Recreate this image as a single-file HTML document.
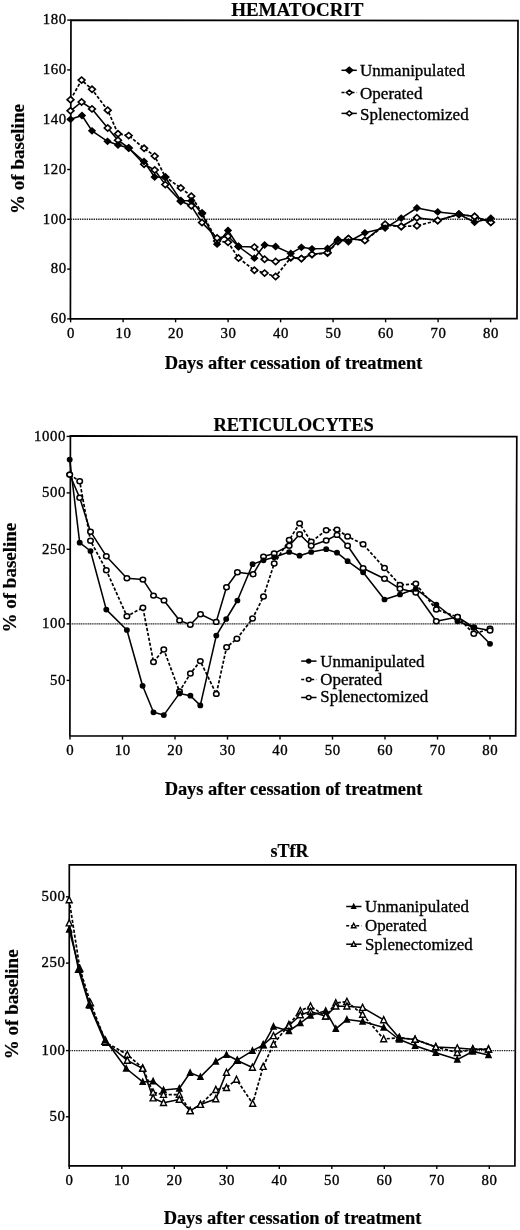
<!DOCTYPE html><html><head><meta charset="utf-8"><style>html,body{margin:0;padding:0;background:#fff;width:520px;height:1230px;overflow:hidden}svg{display:block;will-change:transform}text{font-family:"Liberation Serif",serif;fill:#000;stroke:#000;stroke-width:0.35px}text[font-weight=bold]{stroke-width:0.2px}</style></head><body>
<svg width="520" height="1230" viewBox="0 0 520 1230">
<text x="297.3" y="15.6" font-size="19.0" text-anchor="middle" font-weight="bold">HEMATOCRIT</text>
<polygon points="70.96,20.1 518.0,20.7 517.0,318.7 70.4,318.9" fill="none" stroke="#000" stroke-width="1.7"/>
<line x1="67.2" y1="318.9" x2="70.6" y2="318.9" stroke="#000" stroke-width="1.4"/>
<text x="66.7" y="323.1" font-size="14.8" text-anchor="end" letter-spacing="0.6">60</text>
<line x1="67.2" y1="269.1" x2="70.6" y2="269.1" stroke="#000" stroke-width="1.4"/>
<text x="66.7" y="273.3" font-size="14.8" text-anchor="end" letter-spacing="0.6">80</text>
<line x1="67.2" y1="219.3" x2="70.6" y2="219.3" stroke="#000" stroke-width="1.4"/>
<text x="66.7" y="223.5" font-size="14.8" text-anchor="end" letter-spacing="0.6">100</text>
<line x1="67.2" y1="169.5" x2="70.6" y2="169.5" stroke="#000" stroke-width="1.4"/>
<text x="66.7" y="173.7" font-size="14.8" text-anchor="end" letter-spacing="0.6">120</text>
<line x1="67.2" y1="119.7" x2="70.6" y2="119.7" stroke="#000" stroke-width="1.4"/>
<text x="66.7" y="123.9" font-size="14.8" text-anchor="end" letter-spacing="0.6">140</text>
<line x1="67.2" y1="69.9" x2="70.6" y2="69.9" stroke="#000" stroke-width="1.4"/>
<text x="66.7" y="74.1" font-size="14.8" text-anchor="end" letter-spacing="0.6">160</text>
<line x1="67.2" y1="20.1" x2="70.6" y2="20.1" stroke="#000" stroke-width="1.4"/>
<text x="66.7" y="24.3" font-size="14.8" text-anchor="end" letter-spacing="0.6">180</text>
<line x1="70.6" y1="318.9" x2="70.6" y2="322.3" stroke="#000" stroke-width="1.4"/>
<text x="70.9" y="338.0" font-size="14.8" text-anchor="middle" letter-spacing="0.6">0</text>
<line x1="123.1" y1="318.9" x2="123.1" y2="322.3" stroke="#000" stroke-width="1.4"/>
<text x="123.4" y="338.0" font-size="14.8" text-anchor="middle" letter-spacing="0.6">10</text>
<line x1="175.6" y1="318.9" x2="175.6" y2="322.3" stroke="#000" stroke-width="1.4"/>
<text x="175.9" y="338.0" font-size="14.8" text-anchor="middle" letter-spacing="0.6">20</text>
<line x1="228.1" y1="318.9" x2="228.1" y2="322.3" stroke="#000" stroke-width="1.4"/>
<text x="228.4" y="338.0" font-size="14.8" text-anchor="middle" letter-spacing="0.6">30</text>
<line x1="280.6" y1="318.9" x2="280.6" y2="322.3" stroke="#000" stroke-width="1.4"/>
<text x="280.9" y="338.0" font-size="14.8" text-anchor="middle" letter-spacing="0.6">40</text>
<line x1="333.1" y1="318.9" x2="333.1" y2="322.3" stroke="#000" stroke-width="1.4"/>
<text x="333.4" y="338.0" font-size="14.8" text-anchor="middle" letter-spacing="0.6">50</text>
<line x1="385.6" y1="318.9" x2="385.6" y2="322.3" stroke="#000" stroke-width="1.4"/>
<text x="385.9" y="338.0" font-size="14.8" text-anchor="middle" letter-spacing="0.6">60</text>
<line x1="438.1" y1="318.9" x2="438.1" y2="322.3" stroke="#000" stroke-width="1.4"/>
<text x="438.4" y="338.0" font-size="14.8" text-anchor="middle" letter-spacing="0.6">70</text>
<line x1="490.6" y1="318.9" x2="490.6" y2="322.3" stroke="#000" stroke-width="1.4"/>
<text x="490.9" y="338.0" font-size="14.8" text-anchor="middle" letter-spacing="0.6">80</text>
<line x1="70.6" y1="219.3" x2="517.0" y2="219.3" stroke="#222" stroke-width="1.4" stroke-dasharray="1.4,0.9"/>
<polyline points="70.5,119.3 82.0,115.5 92.0,130.8 107.5,141.3 118.0,145.0 128.7,148.0 144.0,161.5 154.6,177.0 165.2,177.3 180.8,200.4 191.3,200.8 202.0,213.8 217.1,244.2 228.0,230.4 238.5,246.5 254.4,258.2 264.6,245.0 275.6,246.5 290.8,253.4 301.4,247.3 312.0,248.8 327.5,248.5 337.9,239.4 348.4,241.8 364.9,232.8 385.1,228.1 401.2,218.2 416.9,208.0 437.7,211.9 458.9,214.2 474.6,222.3 490.8,218.2" fill="none" stroke="#000" stroke-width="1.55" stroke-linejoin="round"/>
<polyline points="70.5,99.7 81.6,80.1 92.0,89.3 107.7,110.2 118.0,133.8 128.7,135.6 144.1,148.3 154.7,156.1 165.3,177.0 180.8,187.9 191.3,196.2 202.0,213.0 217.1,241.0 228.0,242.3 238.5,258.0 254.4,270.2 264.6,273.1 275.6,276.5 290.8,257.7 301.4,258.6 312.0,254.6 327.5,253.1 337.9,241.5 348.4,238.6 364.9,240.4 385.1,225.1 401.2,226.5 416.9,225.8 437.7,220.5 458.9,214.2 474.6,216.5 490.8,222.3" fill="none" stroke="#000" stroke-width="1.7" stroke-dasharray="3.2,1.8" stroke-linejoin="round"/>
<polyline points="70.5,110.8 81.6,102.0 92.0,108.9 107.7,128.0 118.0,140.2 128.7,148.0 144.1,164.2 154.7,170.0 165.3,184.6 180.8,201.3 191.3,205.8 202.0,222.6 217.1,238.0 228.0,236.2 238.5,246.5 254.4,247.1 264.6,259.2 275.6,261.5 290.8,257.3 301.4,258.6 312.0,254.2 327.5,252.6 337.9,241.0 348.4,238.6 364.9,240.4 385.1,224.2 401.2,226.5 416.9,217.7 437.7,220.5 458.9,214.2 474.6,216.5 490.8,222.3" fill="none" stroke="#000" stroke-width="1.55" stroke-linejoin="round"/>
<path d="M70.5 96.6L73.9 99.7L70.5 102.8L67.1 99.7Z" fill="#fff" stroke="#000" stroke-width="1.6"/>
<path d="M81.6 77.0L85.0 80.1L81.6 83.2L78.2 80.1Z" fill="#fff" stroke="#000" stroke-width="1.6"/>
<path d="M92.0 86.2L95.4 89.3L92.0 92.4L88.6 89.3Z" fill="#fff" stroke="#000" stroke-width="1.6"/>
<path d="M107.7 107.1L111.1 110.2L107.7 113.3L104.3 110.2Z" fill="#fff" stroke="#000" stroke-width="1.6"/>
<path d="M118.0 130.7L121.4 133.8L118.0 136.9L114.6 133.8Z" fill="#fff" stroke="#000" stroke-width="1.6"/>
<path d="M128.7 132.5L132.1 135.6L128.7 138.7L125.3 135.6Z" fill="#fff" stroke="#000" stroke-width="1.6"/>
<path d="M144.1 145.2L147.5 148.3L144.1 151.4L140.7 148.3Z" fill="#fff" stroke="#000" stroke-width="1.6"/>
<path d="M154.7 153.0L158.1 156.1L154.7 159.2L151.3 156.1Z" fill="#fff" stroke="#000" stroke-width="1.6"/>
<path d="M165.3 173.9L168.7 177.0L165.3 180.1L161.9 177.0Z" fill="#fff" stroke="#000" stroke-width="1.6"/>
<path d="M180.8 184.8L184.2 187.9L180.8 191.0L177.4 187.9Z" fill="#fff" stroke="#000" stroke-width="1.6"/>
<path d="M191.3 193.1L194.7 196.2L191.3 199.3L187.9 196.2Z" fill="#fff" stroke="#000" stroke-width="1.6"/>
<path d="M202.0 209.9L205.4 213.0L202.0 216.1L198.6 213.0Z" fill="#fff" stroke="#000" stroke-width="1.6"/>
<path d="M217.1 237.9L220.5 241.0L217.1 244.1L213.7 241.0Z" fill="#fff" stroke="#000" stroke-width="1.6"/>
<path d="M228.0 239.2L231.4 242.3L228.0 245.4L224.6 242.3Z" fill="#fff" stroke="#000" stroke-width="1.6"/>
<path d="M238.5 254.9L241.9 258.0L238.5 261.1L235.1 258.0Z" fill="#fff" stroke="#000" stroke-width="1.6"/>
<path d="M254.4 267.1L257.8 270.2L254.4 273.3L251.0 270.2Z" fill="#fff" stroke="#000" stroke-width="1.6"/>
<path d="M264.6 270.0L268.0 273.1L264.6 276.2L261.2 273.1Z" fill="#fff" stroke="#000" stroke-width="1.6"/>
<path d="M275.6 273.4L279.0 276.5L275.6 279.6L272.2 276.5Z" fill="#fff" stroke="#000" stroke-width="1.6"/>
<path d="M290.8 254.6L294.2 257.7L290.8 260.8L287.4 257.7Z" fill="#fff" stroke="#000" stroke-width="1.6"/>
<path d="M301.4 255.5L304.8 258.6L301.4 261.7L298.0 258.6Z" fill="#fff" stroke="#000" stroke-width="1.6"/>
<path d="M312.0 251.5L315.4 254.6L312.0 257.7L308.6 254.6Z" fill="#fff" stroke="#000" stroke-width="1.6"/>
<path d="M327.5 250.0L330.9 253.1L327.5 256.2L324.1 253.1Z" fill="#fff" stroke="#000" stroke-width="1.6"/>
<path d="M337.9 238.4L341.3 241.5L337.9 244.6L334.5 241.5Z" fill="#fff" stroke="#000" stroke-width="1.6"/>
<path d="M348.4 235.5L351.8 238.6L348.4 241.7L345.0 238.6Z" fill="#fff" stroke="#000" stroke-width="1.6"/>
<path d="M364.9 237.3L368.3 240.4L364.9 243.5L361.5 240.4Z" fill="#fff" stroke="#000" stroke-width="1.6"/>
<path d="M385.1 222.0L388.5 225.1L385.1 228.2L381.7 225.1Z" fill="#fff" stroke="#000" stroke-width="1.6"/>
<path d="M401.2 223.4L404.6 226.5L401.2 229.6L397.8 226.5Z" fill="#fff" stroke="#000" stroke-width="1.6"/>
<path d="M416.9 222.7L420.3 225.8L416.9 228.9L413.5 225.8Z" fill="#fff" stroke="#000" stroke-width="1.6"/>
<path d="M437.7 217.4L441.1 220.5L437.7 223.6L434.3 220.5Z" fill="#fff" stroke="#000" stroke-width="1.6"/>
<path d="M458.9 211.1L462.3 214.2L458.9 217.3L455.5 214.2Z" fill="#fff" stroke="#000" stroke-width="1.6"/>
<path d="M474.6 213.4L478.0 216.5L474.6 219.6L471.2 216.5Z" fill="#fff" stroke="#000" stroke-width="1.6"/>
<path d="M490.8 219.2L494.2 222.3L490.8 225.4L487.4 222.3Z" fill="#fff" stroke="#000" stroke-width="1.6"/>
<path d="M70.5 107.7L73.9 110.8L70.5 113.9L67.1 110.8Z" fill="#fff" stroke="#000" stroke-width="1.6"/>
<path d="M81.6 98.9L85.0 102.0L81.6 105.1L78.2 102.0Z" fill="#fff" stroke="#000" stroke-width="1.6"/>
<path d="M92.0 105.8L95.4 108.9L92.0 112.0L88.6 108.9Z" fill="#fff" stroke="#000" stroke-width="1.6"/>
<path d="M107.7 124.9L111.1 128.0L107.7 131.1L104.3 128.0Z" fill="#fff" stroke="#000" stroke-width="1.6"/>
<path d="M118.0 137.1L121.4 140.2L118.0 143.3L114.6 140.2Z" fill="#fff" stroke="#000" stroke-width="1.6"/>
<path d="M128.7 144.9L132.1 148.0L128.7 151.1L125.3 148.0Z" fill="#fff" stroke="#000" stroke-width="1.6"/>
<path d="M144.1 161.1L147.5 164.2L144.1 167.3L140.7 164.2Z" fill="#fff" stroke="#000" stroke-width="1.6"/>
<path d="M154.7 166.9L158.1 170.0L154.7 173.1L151.3 170.0Z" fill="#fff" stroke="#000" stroke-width="1.6"/>
<path d="M165.3 181.5L168.7 184.6L165.3 187.7L161.9 184.6Z" fill="#fff" stroke="#000" stroke-width="1.6"/>
<path d="M180.8 198.2L184.2 201.3L180.8 204.4L177.4 201.3Z" fill="#fff" stroke="#000" stroke-width="1.6"/>
<path d="M191.3 202.7L194.7 205.8L191.3 208.9L187.9 205.8Z" fill="#fff" stroke="#000" stroke-width="1.6"/>
<path d="M202.0 219.5L205.4 222.6L202.0 225.7L198.6 222.6Z" fill="#fff" stroke="#000" stroke-width="1.6"/>
<path d="M217.1 234.9L220.5 238.0L217.1 241.1L213.7 238.0Z" fill="#fff" stroke="#000" stroke-width="1.6"/>
<path d="M228.0 233.1L231.4 236.2L228.0 239.3L224.6 236.2Z" fill="#fff" stroke="#000" stroke-width="1.6"/>
<path d="M238.5 243.4L241.9 246.5L238.5 249.6L235.1 246.5Z" fill="#fff" stroke="#000" stroke-width="1.6"/>
<path d="M254.4 244.0L257.8 247.1L254.4 250.2L251.0 247.1Z" fill="#fff" stroke="#000" stroke-width="1.6"/>
<path d="M264.6 256.1L268.0 259.2L264.6 262.3L261.2 259.2Z" fill="#fff" stroke="#000" stroke-width="1.6"/>
<path d="M275.6 258.4L279.0 261.5L275.6 264.6L272.2 261.5Z" fill="#fff" stroke="#000" stroke-width="1.6"/>
<path d="M290.8 254.2L294.2 257.3L290.8 260.4L287.4 257.3Z" fill="#fff" stroke="#000" stroke-width="1.6"/>
<path d="M301.4 255.5L304.8 258.6L301.4 261.7L298.0 258.6Z" fill="#fff" stroke="#000" stroke-width="1.6"/>
<path d="M312.0 251.1L315.4 254.2L312.0 257.3L308.6 254.2Z" fill="#fff" stroke="#000" stroke-width="1.6"/>
<path d="M327.5 249.5L330.9 252.6L327.5 255.7L324.1 252.6Z" fill="#fff" stroke="#000" stroke-width="1.6"/>
<path d="M337.9 237.9L341.3 241.0L337.9 244.1L334.5 241.0Z" fill="#fff" stroke="#000" stroke-width="1.6"/>
<path d="M348.4 235.5L351.8 238.6L348.4 241.7L345.0 238.6Z" fill="#fff" stroke="#000" stroke-width="1.6"/>
<path d="M364.9 237.3L368.3 240.4L364.9 243.5L361.5 240.4Z" fill="#fff" stroke="#000" stroke-width="1.6"/>
<path d="M385.1 221.1L388.5 224.2L385.1 227.3L381.7 224.2Z" fill="#fff" stroke="#000" stroke-width="1.6"/>
<path d="M401.2 223.4L404.6 226.5L401.2 229.6L397.8 226.5Z" fill="#fff" stroke="#000" stroke-width="1.6"/>
<path d="M416.9 214.6L420.3 217.7L416.9 220.8L413.5 217.7Z" fill="#fff" stroke="#000" stroke-width="1.6"/>
<path d="M437.7 217.4L441.1 220.5L437.7 223.6L434.3 220.5Z" fill="#fff" stroke="#000" stroke-width="1.6"/>
<path d="M458.9 211.1L462.3 214.2L458.9 217.3L455.5 214.2Z" fill="#fff" stroke="#000" stroke-width="1.6"/>
<path d="M474.6 213.4L478.0 216.5L474.6 219.6L471.2 216.5Z" fill="#fff" stroke="#000" stroke-width="1.6"/>
<path d="M490.8 219.2L494.2 222.3L490.8 225.4L487.4 222.3Z" fill="#fff" stroke="#000" stroke-width="1.6"/>
<path d="M70.5 116.5L73.5 119.3L70.5 122.1L67.5 119.3Z" fill="#000" stroke="#000" stroke-width="1.6"/>
<path d="M82.0 112.7L85.0 115.5L82.0 118.3L79.0 115.5Z" fill="#000" stroke="#000" stroke-width="1.6"/>
<path d="M92.0 128.0L95.0 130.8L92.0 133.6L89.0 130.8Z" fill="#000" stroke="#000" stroke-width="1.6"/>
<path d="M107.5 138.5L110.5 141.3L107.5 144.1L104.5 141.3Z" fill="#000" stroke="#000" stroke-width="1.6"/>
<path d="M118.0 142.2L121.0 145.0L118.0 147.8L115.0 145.0Z" fill="#000" stroke="#000" stroke-width="1.6"/>
<path d="M128.7 145.2L131.7 148.0L128.7 150.8L125.7 148.0Z" fill="#000" stroke="#000" stroke-width="1.6"/>
<path d="M144.0 158.7L147.0 161.5L144.0 164.3L141.0 161.5Z" fill="#000" stroke="#000" stroke-width="1.6"/>
<path d="M154.6 174.2L157.6 177.0L154.6 179.8L151.6 177.0Z" fill="#000" stroke="#000" stroke-width="1.6"/>
<path d="M165.2 174.5L168.2 177.3L165.2 180.1L162.2 177.3Z" fill="#000" stroke="#000" stroke-width="1.6"/>
<path d="M180.8 197.6L183.8 200.4L180.8 203.2L177.8 200.4Z" fill="#000" stroke="#000" stroke-width="1.6"/>
<path d="M191.3 198.0L194.3 200.8L191.3 203.6L188.3 200.8Z" fill="#000" stroke="#000" stroke-width="1.6"/>
<path d="M202.0 211.0L205.0 213.8L202.0 216.6L199.0 213.8Z" fill="#000" stroke="#000" stroke-width="1.6"/>
<path d="M217.1 241.4L220.1 244.2L217.1 247.0L214.1 244.2Z" fill="#000" stroke="#000" stroke-width="1.6"/>
<path d="M228.0 227.6L231.0 230.4L228.0 233.2L225.0 230.4Z" fill="#000" stroke="#000" stroke-width="1.6"/>
<path d="M238.5 243.7L241.5 246.5L238.5 249.3L235.5 246.5Z" fill="#000" stroke="#000" stroke-width="1.6"/>
<path d="M254.4 255.4L257.4 258.2L254.4 261.0L251.4 258.2Z" fill="#000" stroke="#000" stroke-width="1.6"/>
<path d="M264.6 242.2L267.6 245.0L264.6 247.8L261.6 245.0Z" fill="#000" stroke="#000" stroke-width="1.6"/>
<path d="M275.6 243.7L278.6 246.5L275.6 249.3L272.6 246.5Z" fill="#000" stroke="#000" stroke-width="1.6"/>
<path d="M290.8 250.6L293.8 253.4L290.8 256.2L287.8 253.4Z" fill="#000" stroke="#000" stroke-width="1.6"/>
<path d="M301.4 244.5L304.4 247.3L301.4 250.1L298.4 247.3Z" fill="#000" stroke="#000" stroke-width="1.6"/>
<path d="M312.0 246.0L315.0 248.8L312.0 251.6L309.0 248.8Z" fill="#000" stroke="#000" stroke-width="1.6"/>
<path d="M327.5 245.7L330.5 248.5L327.5 251.3L324.5 248.5Z" fill="#000" stroke="#000" stroke-width="1.6"/>
<path d="M337.9 236.6L340.9 239.4L337.9 242.2L334.9 239.4Z" fill="#000" stroke="#000" stroke-width="1.6"/>
<path d="M348.4 239.0L351.4 241.8L348.4 244.6L345.4 241.8Z" fill="#000" stroke="#000" stroke-width="1.6"/>
<path d="M364.9 230.0L367.9 232.8L364.9 235.6L361.9 232.8Z" fill="#000" stroke="#000" stroke-width="1.6"/>
<path d="M385.1 225.3L388.1 228.1L385.1 230.9L382.1 228.1Z" fill="#000" stroke="#000" stroke-width="1.6"/>
<path d="M401.2 215.4L404.2 218.2L401.2 221.0L398.2 218.2Z" fill="#000" stroke="#000" stroke-width="1.6"/>
<path d="M416.9 205.2L419.9 208.0L416.9 210.8L413.9 208.0Z" fill="#000" stroke="#000" stroke-width="1.6"/>
<path d="M437.7 209.1L440.7 211.9L437.7 214.7L434.7 211.9Z" fill="#000" stroke="#000" stroke-width="1.6"/>
<path d="M458.9 211.4L461.9 214.2L458.9 217.0L455.9 214.2Z" fill="#000" stroke="#000" stroke-width="1.6"/>
<path d="M474.6 219.5L477.6 222.3L474.6 225.1L471.6 222.3Z" fill="#000" stroke="#000" stroke-width="1.6"/>
<path d="M490.8 215.4L493.8 218.2L490.8 221.0L487.8 218.2Z" fill="#000" stroke="#000" stroke-width="1.6"/>
<text x="293.5" y="368.7" font-size="18.4" text-anchor="middle" font-weight="bold">Days after cessation of treatment</text>
<text transform="translate(24.1 159.0) rotate(-90)" font-size="19.0" font-weight="bold" text-anchor="middle">% of baseline</text>
<line x1="341.5" y1="70.3" x2="356.8" y2="70.3" stroke="#000" stroke-width="1.5"/>
<path d="M349.3 67.4L352.7 70.3L349.3 73.2L345.9 70.3Z" fill="#000" stroke="#000" stroke-width="1.6"/>
<text x="360.1" y="76.1" font-size="17.0" text-anchor="start">Unmanipulated</text>
<line x1="341.5" y1="92.6" x2="356.8" y2="92.6" stroke="#000" stroke-width="1.5" stroke-dasharray="3,2"/>
<path d="M349.3 90.2L352.2 92.6L349.3 95.0L346.4 92.6Z" fill="#fff" stroke="#000" stroke-width="1.6"/>
<text x="360.1" y="98.7" font-size="17.0" text-anchor="start">Operated</text>
<line x1="341.5" y1="113.4" x2="356.8" y2="113.4" stroke="#000" stroke-width="1.5"/>
<path d="M349.3 111.0L352.2 113.4L349.3 115.8L346.4 113.4Z" fill="#fff" stroke="#000" stroke-width="1.6"/>
<text x="360.1" y="119.5" font-size="17.0" text-anchor="start">Splenectomized</text>
<text x="293.6" y="430.8" font-size="18.5" text-anchor="middle" font-weight="bold">RETICULOCYTES</text>
<polygon points="70.4,435.9 516.8,436.7 515.7,735.8 69.9,736.0" fill="none" stroke="#000" stroke-width="1.7"/>
<line x1="66.6" y1="436.4" x2="70.0" y2="436.4" stroke="#000" stroke-width="1.4"/>
<text x="66.1" y="440.6" font-size="14.8" text-anchor="end" letter-spacing="0.6">1000</text>
<line x1="66.6" y1="492.9" x2="70.0" y2="492.9" stroke="#000" stroke-width="1.4"/>
<text x="66.1" y="497.1" font-size="14.8" text-anchor="end" letter-spacing="0.6">500</text>
<line x1="66.6" y1="549.3" x2="70.0" y2="549.3" stroke="#000" stroke-width="1.4"/>
<text x="66.1" y="553.5" font-size="14.8" text-anchor="end" letter-spacing="0.6">250</text>
<line x1="66.6" y1="623.9" x2="70.0" y2="623.9" stroke="#000" stroke-width="1.4"/>
<text x="66.1" y="628.1" font-size="14.8" text-anchor="end" letter-spacing="0.6">100</text>
<line x1="66.6" y1="680.4" x2="70.0" y2="680.4" stroke="#000" stroke-width="1.4"/>
<text x="66.1" y="684.6" font-size="14.8" text-anchor="end" letter-spacing="0.6">50</text>
<line x1="70.0" y1="736.2" x2="70.0" y2="739.6" stroke="#000" stroke-width="1.4"/>
<text x="70.3" y="754.8" font-size="14.8" text-anchor="middle" letter-spacing="0.6">0</text>
<line x1="122.5" y1="736.2" x2="122.5" y2="739.6" stroke="#000" stroke-width="1.4"/>
<text x="122.8" y="754.8" font-size="14.8" text-anchor="middle" letter-spacing="0.6">10</text>
<line x1="175.0" y1="736.2" x2="175.0" y2="739.6" stroke="#000" stroke-width="1.4"/>
<text x="175.3" y="754.8" font-size="14.8" text-anchor="middle" letter-spacing="0.6">20</text>
<line x1="227.5" y1="736.2" x2="227.5" y2="739.6" stroke="#000" stroke-width="1.4"/>
<text x="227.8" y="754.8" font-size="14.8" text-anchor="middle" letter-spacing="0.6">30</text>
<line x1="280.0" y1="736.2" x2="280.0" y2="739.6" stroke="#000" stroke-width="1.4"/>
<text x="280.3" y="754.8" font-size="14.8" text-anchor="middle" letter-spacing="0.6">40</text>
<line x1="332.5" y1="736.2" x2="332.5" y2="739.6" stroke="#000" stroke-width="1.4"/>
<text x="332.8" y="754.8" font-size="14.8" text-anchor="middle" letter-spacing="0.6">50</text>
<line x1="385.0" y1="736.2" x2="385.0" y2="739.6" stroke="#000" stroke-width="1.4"/>
<text x="385.3" y="754.8" font-size="14.8" text-anchor="middle" letter-spacing="0.6">60</text>
<line x1="437.5" y1="736.2" x2="437.5" y2="739.6" stroke="#000" stroke-width="1.4"/>
<text x="437.8" y="754.8" font-size="14.8" text-anchor="middle" letter-spacing="0.6">70</text>
<line x1="490.0" y1="736.2" x2="490.0" y2="739.6" stroke="#000" stroke-width="1.4"/>
<text x="490.3" y="754.8" font-size="14.8" text-anchor="middle" letter-spacing="0.6">80</text>
<line x1="70.0" y1="623.9" x2="516.0" y2="623.9" stroke="#333" stroke-width="1.1" stroke-dasharray="1.3,0.5"/>
<polyline points="69.7,459.6 79.7,542.7 90.5,551.0 106.3,609.6 126.9,630.0 142.6,685.8 153.5,712.3 163.8,715.1 179.5,693.4 190.4,695.7 200.3,705.4 216.3,635.6 226.2,619.0 237.4,600.5 252.6,564.2 263.5,560.3 274.2,557.3 289.2,552.0 299.6,555.7 311.2,552.0 326.2,549.2 337.0,552.7 347.6,561.2 363.1,572.3 384.5,599.5 400.0,594.5 415.8,588.8 436.3,604.5 457.5,621.3 473.8,627.5 490.0,643.8" fill="none" stroke="#000" stroke-width="1.55" stroke-linejoin="round"/>
<polyline points="69.7,474.6 79.7,481.3 90.5,540.8 106.3,570.2 126.9,616.2 142.9,607.7 153.5,662.0 163.8,649.5 179.5,691.5 190.4,673.5 200.3,661.1 216.3,693.9 226.6,647.2 236.9,638.8 252.6,618.5 263.5,596.5 274.2,563.5 289.2,540.0 299.6,523.4 311.2,541.8 326.2,530.3 337.0,529.6 347.6,536.5 363.1,544.2 384.5,568.0 400.0,585.0 415.8,583.8 436.3,609.5 457.5,617.0 473.8,633.8 490.0,628.8" fill="none" stroke="#000" stroke-width="1.7" stroke-dasharray="3.2,1.8" stroke-linejoin="round"/>
<polyline points="69.7,474.6 79.7,497.7 90.5,531.7 106.3,556.2 126.9,578.3 142.9,579.6 153.5,595.6 164.0,600.4 179.6,620.4 190.3,624.8 200.5,614.3 216.2,621.9 226.5,587.3 237.4,572.3 253.1,574.2 263.5,556.6 274.2,553.4 289.2,545.8 299.6,534.2 311.2,545.8 326.2,540.5 337.0,534.9 347.6,545.8 363.1,568.2 384.5,578.8 400.0,588.8 415.8,592.5 436.3,621.3 457.5,617.0 473.8,627.5 490.0,630.5" fill="none" stroke="#000" stroke-width="1.55" stroke-linejoin="round"/>
<ellipse cx="69.7" cy="474.6" rx="2.75" ry="2.45" fill="#fff" stroke="#000" stroke-width="1.5"/>
<ellipse cx="79.7" cy="481.3" rx="2.75" ry="2.45" fill="#fff" stroke="#000" stroke-width="1.5"/>
<ellipse cx="90.5" cy="540.8" rx="2.75" ry="2.45" fill="#fff" stroke="#000" stroke-width="1.5"/>
<ellipse cx="106.3" cy="570.2" rx="2.75" ry="2.45" fill="#fff" stroke="#000" stroke-width="1.5"/>
<ellipse cx="126.9" cy="616.2" rx="2.75" ry="2.45" fill="#fff" stroke="#000" stroke-width="1.5"/>
<ellipse cx="142.9" cy="607.7" rx="2.75" ry="2.45" fill="#fff" stroke="#000" stroke-width="1.5"/>
<ellipse cx="153.5" cy="662.0" rx="2.75" ry="2.45" fill="#fff" stroke="#000" stroke-width="1.5"/>
<ellipse cx="163.8" cy="649.5" rx="2.75" ry="2.45" fill="#fff" stroke="#000" stroke-width="1.5"/>
<ellipse cx="179.5" cy="691.5" rx="2.75" ry="2.45" fill="#fff" stroke="#000" stroke-width="1.5"/>
<ellipse cx="190.4" cy="673.5" rx="2.75" ry="2.45" fill="#fff" stroke="#000" stroke-width="1.5"/>
<ellipse cx="200.3" cy="661.1" rx="2.75" ry="2.45" fill="#fff" stroke="#000" stroke-width="1.5"/>
<ellipse cx="216.3" cy="693.9" rx="2.75" ry="2.45" fill="#fff" stroke="#000" stroke-width="1.5"/>
<ellipse cx="226.6" cy="647.2" rx="2.75" ry="2.45" fill="#fff" stroke="#000" stroke-width="1.5"/>
<ellipse cx="236.9" cy="638.8" rx="2.75" ry="2.45" fill="#fff" stroke="#000" stroke-width="1.5"/>
<ellipse cx="252.6" cy="618.5" rx="2.75" ry="2.45" fill="#fff" stroke="#000" stroke-width="1.5"/>
<ellipse cx="263.5" cy="596.5" rx="2.75" ry="2.45" fill="#fff" stroke="#000" stroke-width="1.5"/>
<ellipse cx="274.2" cy="563.5" rx="2.75" ry="2.45" fill="#fff" stroke="#000" stroke-width="1.5"/>
<ellipse cx="289.2" cy="540.0" rx="2.75" ry="2.45" fill="#fff" stroke="#000" stroke-width="1.5"/>
<ellipse cx="299.6" cy="523.4" rx="2.75" ry="2.45" fill="#fff" stroke="#000" stroke-width="1.5"/>
<ellipse cx="311.2" cy="541.8" rx="2.75" ry="2.45" fill="#fff" stroke="#000" stroke-width="1.5"/>
<ellipse cx="326.2" cy="530.3" rx="2.75" ry="2.45" fill="#fff" stroke="#000" stroke-width="1.5"/>
<ellipse cx="337.0" cy="529.6" rx="2.75" ry="2.45" fill="#fff" stroke="#000" stroke-width="1.5"/>
<ellipse cx="347.6" cy="536.5" rx="2.75" ry="2.45" fill="#fff" stroke="#000" stroke-width="1.5"/>
<ellipse cx="363.1" cy="544.2" rx="2.75" ry="2.45" fill="#fff" stroke="#000" stroke-width="1.5"/>
<ellipse cx="384.5" cy="568.0" rx="2.75" ry="2.45" fill="#fff" stroke="#000" stroke-width="1.5"/>
<ellipse cx="400.0" cy="585.0" rx="2.75" ry="2.45" fill="#fff" stroke="#000" stroke-width="1.5"/>
<ellipse cx="415.8" cy="583.8" rx="2.75" ry="2.45" fill="#fff" stroke="#000" stroke-width="1.5"/>
<ellipse cx="436.3" cy="609.5" rx="2.75" ry="2.45" fill="#fff" stroke="#000" stroke-width="1.5"/>
<ellipse cx="457.5" cy="617.0" rx="2.75" ry="2.45" fill="#fff" stroke="#000" stroke-width="1.5"/>
<ellipse cx="473.8" cy="633.8" rx="2.75" ry="2.45" fill="#fff" stroke="#000" stroke-width="1.5"/>
<ellipse cx="490.0" cy="628.8" rx="2.75" ry="2.45" fill="#fff" stroke="#000" stroke-width="1.5"/>
<ellipse cx="69.7" cy="474.6" rx="2.75" ry="2.45" fill="#fff" stroke="#000" stroke-width="1.5"/>
<ellipse cx="79.7" cy="497.7" rx="2.75" ry="2.45" fill="#fff" stroke="#000" stroke-width="1.5"/>
<ellipse cx="90.5" cy="531.7" rx="2.75" ry="2.45" fill="#fff" stroke="#000" stroke-width="1.5"/>
<ellipse cx="106.3" cy="556.2" rx="2.75" ry="2.45" fill="#fff" stroke="#000" stroke-width="1.5"/>
<ellipse cx="126.9" cy="578.3" rx="2.75" ry="2.45" fill="#fff" stroke="#000" stroke-width="1.5"/>
<ellipse cx="142.9" cy="579.6" rx="2.75" ry="2.45" fill="#fff" stroke="#000" stroke-width="1.5"/>
<ellipse cx="153.5" cy="595.6" rx="2.75" ry="2.45" fill="#fff" stroke="#000" stroke-width="1.5"/>
<ellipse cx="164.0" cy="600.4" rx="2.75" ry="2.45" fill="#fff" stroke="#000" stroke-width="1.5"/>
<ellipse cx="179.6" cy="620.4" rx="2.75" ry="2.45" fill="#fff" stroke="#000" stroke-width="1.5"/>
<ellipse cx="190.3" cy="624.8" rx="2.75" ry="2.45" fill="#fff" stroke="#000" stroke-width="1.5"/>
<ellipse cx="200.5" cy="614.3" rx="2.75" ry="2.45" fill="#fff" stroke="#000" stroke-width="1.5"/>
<ellipse cx="216.2" cy="621.9" rx="2.75" ry="2.45" fill="#fff" stroke="#000" stroke-width="1.5"/>
<ellipse cx="226.5" cy="587.3" rx="2.75" ry="2.45" fill="#fff" stroke="#000" stroke-width="1.5"/>
<ellipse cx="237.4" cy="572.3" rx="2.75" ry="2.45" fill="#fff" stroke="#000" stroke-width="1.5"/>
<ellipse cx="253.1" cy="574.2" rx="2.75" ry="2.45" fill="#fff" stroke="#000" stroke-width="1.5"/>
<ellipse cx="263.5" cy="556.6" rx="2.75" ry="2.45" fill="#fff" stroke="#000" stroke-width="1.5"/>
<ellipse cx="274.2" cy="553.4" rx="2.75" ry="2.45" fill="#fff" stroke="#000" stroke-width="1.5"/>
<ellipse cx="289.2" cy="545.8" rx="2.75" ry="2.45" fill="#fff" stroke="#000" stroke-width="1.5"/>
<ellipse cx="299.6" cy="534.2" rx="2.75" ry="2.45" fill="#fff" stroke="#000" stroke-width="1.5"/>
<ellipse cx="311.2" cy="545.8" rx="2.75" ry="2.45" fill="#fff" stroke="#000" stroke-width="1.5"/>
<ellipse cx="326.2" cy="540.5" rx="2.75" ry="2.45" fill="#fff" stroke="#000" stroke-width="1.5"/>
<ellipse cx="337.0" cy="534.9" rx="2.75" ry="2.45" fill="#fff" stroke="#000" stroke-width="1.5"/>
<ellipse cx="347.6" cy="545.8" rx="2.75" ry="2.45" fill="#fff" stroke="#000" stroke-width="1.5"/>
<ellipse cx="363.1" cy="568.2" rx="2.75" ry="2.45" fill="#fff" stroke="#000" stroke-width="1.5"/>
<ellipse cx="384.5" cy="578.8" rx="2.75" ry="2.45" fill="#fff" stroke="#000" stroke-width="1.5"/>
<ellipse cx="400.0" cy="588.8" rx="2.75" ry="2.45" fill="#fff" stroke="#000" stroke-width="1.5"/>
<ellipse cx="415.8" cy="592.5" rx="2.75" ry="2.45" fill="#fff" stroke="#000" stroke-width="1.5"/>
<ellipse cx="436.3" cy="621.3" rx="2.75" ry="2.45" fill="#fff" stroke="#000" stroke-width="1.5"/>
<ellipse cx="457.5" cy="617.0" rx="2.75" ry="2.45" fill="#fff" stroke="#000" stroke-width="1.5"/>
<ellipse cx="473.8" cy="627.5" rx="2.75" ry="2.45" fill="#fff" stroke="#000" stroke-width="1.5"/>
<ellipse cx="490.0" cy="630.5" rx="2.75" ry="2.45" fill="#fff" stroke="#000" stroke-width="1.5"/>
<ellipse cx="69.7" cy="459.6" rx="2.2" ry="2.1" fill="#000" stroke="#000" stroke-width="1.5"/>
<ellipse cx="79.7" cy="542.7" rx="2.2" ry="2.1" fill="#000" stroke="#000" stroke-width="1.5"/>
<ellipse cx="90.5" cy="551.0" rx="2.2" ry="2.1" fill="#000" stroke="#000" stroke-width="1.5"/>
<ellipse cx="106.3" cy="609.6" rx="2.2" ry="2.1" fill="#000" stroke="#000" stroke-width="1.5"/>
<ellipse cx="126.9" cy="630.0" rx="2.2" ry="2.1" fill="#000" stroke="#000" stroke-width="1.5"/>
<ellipse cx="142.6" cy="685.8" rx="2.2" ry="2.1" fill="#000" stroke="#000" stroke-width="1.5"/>
<ellipse cx="153.5" cy="712.3" rx="2.2" ry="2.1" fill="#000" stroke="#000" stroke-width="1.5"/>
<ellipse cx="163.8" cy="715.1" rx="2.2" ry="2.1" fill="#000" stroke="#000" stroke-width="1.5"/>
<ellipse cx="179.5" cy="693.4" rx="2.2" ry="2.1" fill="#000" stroke="#000" stroke-width="1.5"/>
<ellipse cx="190.4" cy="695.7" rx="2.2" ry="2.1" fill="#000" stroke="#000" stroke-width="1.5"/>
<ellipse cx="200.3" cy="705.4" rx="2.2" ry="2.1" fill="#000" stroke="#000" stroke-width="1.5"/>
<ellipse cx="216.3" cy="635.6" rx="2.2" ry="2.1" fill="#000" stroke="#000" stroke-width="1.5"/>
<ellipse cx="226.2" cy="619.0" rx="2.2" ry="2.1" fill="#000" stroke="#000" stroke-width="1.5"/>
<ellipse cx="237.4" cy="600.5" rx="2.2" ry="2.1" fill="#000" stroke="#000" stroke-width="1.5"/>
<ellipse cx="252.6" cy="564.2" rx="2.2" ry="2.1" fill="#000" stroke="#000" stroke-width="1.5"/>
<ellipse cx="263.5" cy="560.3" rx="2.2" ry="2.1" fill="#000" stroke="#000" stroke-width="1.5"/>
<ellipse cx="274.2" cy="557.3" rx="2.2" ry="2.1" fill="#000" stroke="#000" stroke-width="1.5"/>
<ellipse cx="289.2" cy="552.0" rx="2.2" ry="2.1" fill="#000" stroke="#000" stroke-width="1.5"/>
<ellipse cx="299.6" cy="555.7" rx="2.2" ry="2.1" fill="#000" stroke="#000" stroke-width="1.5"/>
<ellipse cx="311.2" cy="552.0" rx="2.2" ry="2.1" fill="#000" stroke="#000" stroke-width="1.5"/>
<ellipse cx="326.2" cy="549.2" rx="2.2" ry="2.1" fill="#000" stroke="#000" stroke-width="1.5"/>
<ellipse cx="337.0" cy="552.7" rx="2.2" ry="2.1" fill="#000" stroke="#000" stroke-width="1.5"/>
<ellipse cx="347.6" cy="561.2" rx="2.2" ry="2.1" fill="#000" stroke="#000" stroke-width="1.5"/>
<ellipse cx="363.1" cy="572.3" rx="2.2" ry="2.1" fill="#000" stroke="#000" stroke-width="1.5"/>
<ellipse cx="384.5" cy="599.5" rx="2.2" ry="2.1" fill="#000" stroke="#000" stroke-width="1.5"/>
<ellipse cx="400.0" cy="594.5" rx="2.2" ry="2.1" fill="#000" stroke="#000" stroke-width="1.5"/>
<ellipse cx="415.8" cy="588.8" rx="2.2" ry="2.1" fill="#000" stroke="#000" stroke-width="1.5"/>
<ellipse cx="436.3" cy="604.5" rx="2.2" ry="2.1" fill="#000" stroke="#000" stroke-width="1.5"/>
<ellipse cx="457.5" cy="621.3" rx="2.2" ry="2.1" fill="#000" stroke="#000" stroke-width="1.5"/>
<ellipse cx="473.8" cy="627.5" rx="2.2" ry="2.1" fill="#000" stroke="#000" stroke-width="1.5"/>
<ellipse cx="490.0" cy="643.8" rx="2.2" ry="2.1" fill="#000" stroke="#000" stroke-width="1.5"/>
<text x="293.5" y="794.6" font-size="18.4" text-anchor="middle" font-weight="bold">Days after cessation of treatment</text>
<text transform="translate(15.8 577.6) rotate(-90)" font-size="19.0" font-weight="bold" text-anchor="middle">% of baseline</text>
<line x1="301.2" y1="661.1" x2="316.5" y2="661.1" stroke="#000" stroke-width="1.5"/>
<ellipse cx="308.7" cy="661.1" rx="2.0" ry="1.8" fill="#000" stroke="#000" stroke-width="1.5"/>
<text x="320.3" y="667.2" font-size="16.9" text-anchor="start">Unmanipulated</text>
<line x1="301.2" y1="679.5" x2="316.5" y2="679.5" stroke="#000" stroke-width="1.5" stroke-dasharray="3,2"/>
<ellipse cx="308.7" cy="679.5" rx="2.3" ry="2.0" fill="#fff" stroke="#000" stroke-width="1.5"/>
<text x="320.3" y="684.6" font-size="16.9" text-anchor="start">Operated</text>
<line x1="301.2" y1="697.5" x2="316.5" y2="697.5" stroke="#000" stroke-width="1.5"/>
<ellipse cx="308.7" cy="697.5" rx="2.3" ry="2.0" fill="#fff" stroke="#000" stroke-width="1.5"/>
<text x="320.3" y="702.3" font-size="16.9" text-anchor="start">Splenectomized</text>
<text x="289.5" y="857.1" font-size="18" text-anchor="middle" font-weight="bold">sTfR</text>
<polygon points="69.3,864.9 515.9,864.8 514.9,1166.0 69.1,1165.8" fill="none" stroke="#000" stroke-width="1.7"/>
<line x1="65.9" y1="896.8" x2="69.3" y2="896.8" stroke="#000" stroke-width="1.4"/>
<text x="65.4" y="901.0" font-size="14.8" text-anchor="end" letter-spacing="0.6">500</text>
<line x1="65.9" y1="963.1" x2="69.3" y2="963.1" stroke="#000" stroke-width="1.4"/>
<text x="65.4" y="967.3" font-size="14.8" text-anchor="end" letter-spacing="0.6">250</text>
<line x1="65.9" y1="1050.6" x2="69.3" y2="1050.6" stroke="#000" stroke-width="1.4"/>
<text x="65.4" y="1054.8" font-size="14.8" text-anchor="end" letter-spacing="0.6">100</text>
<line x1="65.9" y1="1116.8" x2="69.3" y2="1116.8" stroke="#000" stroke-width="1.4"/>
<text x="65.4" y="1121.0" font-size="14.8" text-anchor="end" letter-spacing="0.6">50</text>
<line x1="69.3" y1="1165.6" x2="69.3" y2="1169.0" stroke="#000" stroke-width="1.4"/>
<text x="69.6" y="1184.8" font-size="14.8" text-anchor="middle" letter-spacing="0.6">0</text>
<line x1="121.8" y1="1165.6" x2="121.8" y2="1169.0" stroke="#000" stroke-width="1.4"/>
<text x="122.1" y="1184.8" font-size="14.8" text-anchor="middle" letter-spacing="0.6">10</text>
<line x1="174.3" y1="1165.6" x2="174.3" y2="1169.0" stroke="#000" stroke-width="1.4"/>
<text x="174.6" y="1184.8" font-size="14.8" text-anchor="middle" letter-spacing="0.6">20</text>
<line x1="226.8" y1="1165.6" x2="226.8" y2="1169.0" stroke="#000" stroke-width="1.4"/>
<text x="227.1" y="1184.8" font-size="14.8" text-anchor="middle" letter-spacing="0.6">30</text>
<line x1="279.3" y1="1165.6" x2="279.3" y2="1169.0" stroke="#000" stroke-width="1.4"/>
<text x="279.6" y="1184.8" font-size="14.8" text-anchor="middle" letter-spacing="0.6">40</text>
<line x1="331.8" y1="1165.6" x2="331.8" y2="1169.0" stroke="#000" stroke-width="1.4"/>
<text x="332.1" y="1184.8" font-size="14.8" text-anchor="middle" letter-spacing="0.6">50</text>
<line x1="384.3" y1="1165.6" x2="384.3" y2="1169.0" stroke="#000" stroke-width="1.4"/>
<text x="384.6" y="1184.8" font-size="14.8" text-anchor="middle" letter-spacing="0.6">60</text>
<line x1="436.8" y1="1165.6" x2="436.8" y2="1169.0" stroke="#000" stroke-width="1.4"/>
<text x="437.1" y="1184.8" font-size="14.8" text-anchor="middle" letter-spacing="0.6">70</text>
<line x1="489.3" y1="1165.6" x2="489.3" y2="1169.0" stroke="#000" stroke-width="1.4"/>
<text x="489.6" y="1184.8" font-size="14.8" text-anchor="middle" letter-spacing="0.6">80</text>
<line x1="69.3" y1="1050.6" x2="515.4" y2="1050.6" stroke="#222" stroke-width="1.4" stroke-dasharray="1.4,0.9"/>
<polyline points="69.2,929.5 79.4,969.5 89.8,1005.5 105.4,1040.0 126.2,1068.5 142.7,1081.9 153.1,1081.2 163.5,1090.0 179.3,1088.5 190.1,1072.8 200.4,1076.9 215.8,1061.5 226.5,1054.8 237.3,1060.2 252.4,1050.8 263.2,1045.1 273.5,1026.6 288.9,1031.0 300.3,1023.1 310.5,1015.5 325.7,1010.8 335.8,1028.8 346.9,1019.6 362.6,1021.5 383.7,1027.5 399.3,1039.5 415.1,1045.8 435.8,1052.7 457.3,1059.6 472.8,1051.5 488.5,1055.0" fill="none" stroke="#000" stroke-width="1.55" stroke-linejoin="round"/>
<polyline points="69.2,900.0 79.9,968.8 90.5,1003.0 106.0,1042.5 127.3,1054.6 142.7,1068.1 153.1,1092.3 163.5,1094.6 179.3,1094.6 190.1,1110.8 200.4,1104.6 215.8,1089.7 226.5,1087.7 236.5,1079.5 252.7,1103.5 263.2,1066.6 273.5,1044.2 288.9,1024.7 300.3,1010.8 310.5,1006.2 325.7,1016.2 335.8,1003.0 346.9,1001.6 362.6,1014.5 383.7,1039.0 399.3,1037.7 415.1,1039.5 435.8,1046.9 457.3,1052.7 472.8,1049.2 488.5,1049.2" fill="none" stroke="#000" stroke-width="1.7" stroke-dasharray="3.2,1.8" stroke-linejoin="round"/>
<polyline points="69.2,923.1 78.5,969.5 89.2,1004.8 104.8,1041.5 127.3,1060.4 142.7,1068.5 153.1,1098.1 163.5,1102.7 179.3,1099.5 190.1,1110.8 200.4,1104.6 215.8,1098.9 226.5,1072.5 237.3,1060.5 252.4,1067.5 263.2,1045.0 273.5,1035.8 288.9,1025.8 300.3,1015.0 310.5,1011.5 325.7,1016.2 335.8,1006.2 346.9,1006.2 362.6,1007.6 383.7,1019.9 399.3,1038.0 415.1,1039.5 435.8,1046.9 457.3,1048.1 472.8,1049.2 488.5,1049.2" fill="none" stroke="#000" stroke-width="1.55" stroke-linejoin="round"/>
<path d="M69.2 896.7L72.2 902.8L66.2 902.8Z" fill="#fff" stroke="#000" stroke-width="1.4" stroke-linejoin="miter"/>
<path d="M79.9 965.5L82.9 971.6L76.9 971.6Z" fill="#fff" stroke="#000" stroke-width="1.4" stroke-linejoin="miter"/>
<path d="M90.5 999.7L93.5 1005.8L87.5 1005.8Z" fill="#fff" stroke="#000" stroke-width="1.4" stroke-linejoin="miter"/>
<path d="M106.0 1039.2L109.0 1045.3L103.0 1045.3Z" fill="#fff" stroke="#000" stroke-width="1.4" stroke-linejoin="miter"/>
<path d="M127.3 1051.3L130.3 1057.4L124.3 1057.4Z" fill="#fff" stroke="#000" stroke-width="1.4" stroke-linejoin="miter"/>
<path d="M142.7 1064.8L145.7 1070.9L139.7 1070.9Z" fill="#fff" stroke="#000" stroke-width="1.4" stroke-linejoin="miter"/>
<path d="M153.1 1089.0L156.1 1095.1L150.1 1095.1Z" fill="#fff" stroke="#000" stroke-width="1.4" stroke-linejoin="miter"/>
<path d="M163.5 1091.3L166.5 1097.4L160.5 1097.4Z" fill="#fff" stroke="#000" stroke-width="1.4" stroke-linejoin="miter"/>
<path d="M179.3 1091.3L182.3 1097.4L176.3 1097.4Z" fill="#fff" stroke="#000" stroke-width="1.4" stroke-linejoin="miter"/>
<path d="M190.1 1107.5L193.1 1113.6L187.1 1113.6Z" fill="#fff" stroke="#000" stroke-width="1.4" stroke-linejoin="miter"/>
<path d="M200.4 1101.3L203.4 1107.4L197.4 1107.4Z" fill="#fff" stroke="#000" stroke-width="1.4" stroke-linejoin="miter"/>
<path d="M215.8 1086.4L218.8 1092.5L212.8 1092.5Z" fill="#fff" stroke="#000" stroke-width="1.4" stroke-linejoin="miter"/>
<path d="M226.5 1084.4L229.5 1090.5L223.5 1090.5Z" fill="#fff" stroke="#000" stroke-width="1.4" stroke-linejoin="miter"/>
<path d="M236.5 1076.2L239.5 1082.3L233.5 1082.3Z" fill="#fff" stroke="#000" stroke-width="1.4" stroke-linejoin="miter"/>
<path d="M252.7 1100.2L255.7 1106.3L249.7 1106.3Z" fill="#fff" stroke="#000" stroke-width="1.4" stroke-linejoin="miter"/>
<path d="M263.2 1063.3L266.2 1069.4L260.2 1069.4Z" fill="#fff" stroke="#000" stroke-width="1.4" stroke-linejoin="miter"/>
<path d="M273.5 1040.9L276.5 1047.0L270.5 1047.0Z" fill="#fff" stroke="#000" stroke-width="1.4" stroke-linejoin="miter"/>
<path d="M288.9 1021.4L291.9 1027.5L285.9 1027.5Z" fill="#fff" stroke="#000" stroke-width="1.4" stroke-linejoin="miter"/>
<path d="M300.3 1007.5L303.3 1013.6L297.3 1013.6Z" fill="#fff" stroke="#000" stroke-width="1.4" stroke-linejoin="miter"/>
<path d="M310.5 1002.9L313.5 1009.0L307.5 1009.0Z" fill="#fff" stroke="#000" stroke-width="1.4" stroke-linejoin="miter"/>
<path d="M325.7 1012.9L328.7 1019.0L322.7 1019.0Z" fill="#fff" stroke="#000" stroke-width="1.4" stroke-linejoin="miter"/>
<path d="M335.8 999.7L338.8 1005.8L332.8 1005.8Z" fill="#fff" stroke="#000" stroke-width="1.4" stroke-linejoin="miter"/>
<path d="M346.9 998.3L349.9 1004.4L343.9 1004.4Z" fill="#fff" stroke="#000" stroke-width="1.4" stroke-linejoin="miter"/>
<path d="M362.6 1011.2L365.6 1017.3L359.6 1017.3Z" fill="#fff" stroke="#000" stroke-width="1.4" stroke-linejoin="miter"/>
<path d="M383.7 1035.7L386.7 1041.8L380.7 1041.8Z" fill="#fff" stroke="#000" stroke-width="1.4" stroke-linejoin="miter"/>
<path d="M399.3 1034.4L402.3 1040.5L396.3 1040.5Z" fill="#fff" stroke="#000" stroke-width="1.4" stroke-linejoin="miter"/>
<path d="M415.1 1036.2L418.1 1042.3L412.1 1042.3Z" fill="#fff" stroke="#000" stroke-width="1.4" stroke-linejoin="miter"/>
<path d="M435.8 1043.6L438.8 1049.7L432.8 1049.7Z" fill="#fff" stroke="#000" stroke-width="1.4" stroke-linejoin="miter"/>
<path d="M457.3 1049.4L460.3 1055.5L454.3 1055.5Z" fill="#fff" stroke="#000" stroke-width="1.4" stroke-linejoin="miter"/>
<path d="M472.8 1045.9L475.8 1052.0L469.8 1052.0Z" fill="#fff" stroke="#000" stroke-width="1.4" stroke-linejoin="miter"/>
<path d="M488.5 1045.9L491.5 1052.0L485.5 1052.0Z" fill="#fff" stroke="#000" stroke-width="1.4" stroke-linejoin="miter"/>
<path d="M69.2 919.8L72.2 925.9L66.2 925.9Z" fill="#fff" stroke="#000" stroke-width="1.4" stroke-linejoin="miter"/>
<path d="M78.5 966.2L81.5 972.3L75.5 972.3Z" fill="#fff" stroke="#000" stroke-width="1.4" stroke-linejoin="miter"/>
<path d="M89.2 1001.5L92.2 1007.6L86.2 1007.6Z" fill="#fff" stroke="#000" stroke-width="1.4" stroke-linejoin="miter"/>
<path d="M104.8 1038.2L107.8 1044.3L101.8 1044.3Z" fill="#fff" stroke="#000" stroke-width="1.4" stroke-linejoin="miter"/>
<path d="M127.3 1057.1L130.3 1063.2L124.3 1063.2Z" fill="#fff" stroke="#000" stroke-width="1.4" stroke-linejoin="miter"/>
<path d="M142.7 1065.2L145.7 1071.3L139.7 1071.3Z" fill="#fff" stroke="#000" stroke-width="1.4" stroke-linejoin="miter"/>
<path d="M153.1 1094.8L156.1 1100.9L150.1 1100.9Z" fill="#fff" stroke="#000" stroke-width="1.4" stroke-linejoin="miter"/>
<path d="M163.5 1099.4L166.5 1105.5L160.5 1105.5Z" fill="#fff" stroke="#000" stroke-width="1.4" stroke-linejoin="miter"/>
<path d="M179.3 1096.2L182.3 1102.3L176.3 1102.3Z" fill="#fff" stroke="#000" stroke-width="1.4" stroke-linejoin="miter"/>
<path d="M190.1 1107.5L193.1 1113.6L187.1 1113.6Z" fill="#fff" stroke="#000" stroke-width="1.4" stroke-linejoin="miter"/>
<path d="M200.4 1101.3L203.4 1107.4L197.4 1107.4Z" fill="#fff" stroke="#000" stroke-width="1.4" stroke-linejoin="miter"/>
<path d="M215.8 1095.6L218.8 1101.7L212.8 1101.7Z" fill="#fff" stroke="#000" stroke-width="1.4" stroke-linejoin="miter"/>
<path d="M226.5 1069.2L229.5 1075.3L223.5 1075.3Z" fill="#fff" stroke="#000" stroke-width="1.4" stroke-linejoin="miter"/>
<path d="M237.3 1057.2L240.3 1063.3L234.3 1063.3Z" fill="#fff" stroke="#000" stroke-width="1.4" stroke-linejoin="miter"/>
<path d="M252.4 1064.2L255.4 1070.3L249.4 1070.3Z" fill="#fff" stroke="#000" stroke-width="1.4" stroke-linejoin="miter"/>
<path d="M263.2 1041.7L266.2 1047.8L260.2 1047.8Z" fill="#fff" stroke="#000" stroke-width="1.4" stroke-linejoin="miter"/>
<path d="M273.5 1032.5L276.5 1038.6L270.5 1038.6Z" fill="#fff" stroke="#000" stroke-width="1.4" stroke-linejoin="miter"/>
<path d="M288.9 1022.5L291.9 1028.6L285.9 1028.6Z" fill="#fff" stroke="#000" stroke-width="1.4" stroke-linejoin="miter"/>
<path d="M300.3 1011.7L303.3 1017.8L297.3 1017.8Z" fill="#fff" stroke="#000" stroke-width="1.4" stroke-linejoin="miter"/>
<path d="M310.5 1008.2L313.5 1014.3L307.5 1014.3Z" fill="#fff" stroke="#000" stroke-width="1.4" stroke-linejoin="miter"/>
<path d="M325.7 1012.9L328.7 1019.0L322.7 1019.0Z" fill="#fff" stroke="#000" stroke-width="1.4" stroke-linejoin="miter"/>
<path d="M335.8 1002.9L338.8 1009.0L332.8 1009.0Z" fill="#fff" stroke="#000" stroke-width="1.4" stroke-linejoin="miter"/>
<path d="M346.9 1002.9L349.9 1009.0L343.9 1009.0Z" fill="#fff" stroke="#000" stroke-width="1.4" stroke-linejoin="miter"/>
<path d="M362.6 1004.3L365.6 1010.4L359.6 1010.4Z" fill="#fff" stroke="#000" stroke-width="1.4" stroke-linejoin="miter"/>
<path d="M383.7 1016.6L386.7 1022.7L380.7 1022.7Z" fill="#fff" stroke="#000" stroke-width="1.4" stroke-linejoin="miter"/>
<path d="M399.3 1034.7L402.3 1040.8L396.3 1040.8Z" fill="#fff" stroke="#000" stroke-width="1.4" stroke-linejoin="miter"/>
<path d="M415.1 1036.2L418.1 1042.3L412.1 1042.3Z" fill="#fff" stroke="#000" stroke-width="1.4" stroke-linejoin="miter"/>
<path d="M435.8 1043.6L438.8 1049.7L432.8 1049.7Z" fill="#fff" stroke="#000" stroke-width="1.4" stroke-linejoin="miter"/>
<path d="M457.3 1044.8L460.3 1050.9L454.3 1050.9Z" fill="#fff" stroke="#000" stroke-width="1.4" stroke-linejoin="miter"/>
<path d="M472.8 1045.9L475.8 1052.0L469.8 1052.0Z" fill="#fff" stroke="#000" stroke-width="1.4" stroke-linejoin="miter"/>
<path d="M488.5 1045.9L491.5 1052.0L485.5 1052.0Z" fill="#fff" stroke="#000" stroke-width="1.4" stroke-linejoin="miter"/>
<path d="M69.2 926.6L71.8 932.0L66.6 932.0Z" fill="#000" stroke="#000" stroke-width="1.4" stroke-linejoin="miter"/>
<path d="M79.4 966.6L82.0 972.0L76.8 972.0Z" fill="#000" stroke="#000" stroke-width="1.4" stroke-linejoin="miter"/>
<path d="M89.8 1002.6L92.4 1008.0L87.2 1008.0Z" fill="#000" stroke="#000" stroke-width="1.4" stroke-linejoin="miter"/>
<path d="M105.4 1037.1L108.0 1042.5L102.8 1042.5Z" fill="#000" stroke="#000" stroke-width="1.4" stroke-linejoin="miter"/>
<path d="M126.2 1065.6L128.8 1071.0L123.6 1071.0Z" fill="#000" stroke="#000" stroke-width="1.4" stroke-linejoin="miter"/>
<path d="M142.7 1079.0L145.3 1084.4L140.1 1084.4Z" fill="#000" stroke="#000" stroke-width="1.4" stroke-linejoin="miter"/>
<path d="M153.1 1078.3L155.7 1083.7L150.5 1083.7Z" fill="#000" stroke="#000" stroke-width="1.4" stroke-linejoin="miter"/>
<path d="M163.5 1087.1L166.1 1092.5L160.9 1092.5Z" fill="#000" stroke="#000" stroke-width="1.4" stroke-linejoin="miter"/>
<path d="M179.3 1085.6L181.9 1091.0L176.7 1091.0Z" fill="#000" stroke="#000" stroke-width="1.4" stroke-linejoin="miter"/>
<path d="M190.1 1069.9L192.7 1075.3L187.5 1075.3Z" fill="#000" stroke="#000" stroke-width="1.4" stroke-linejoin="miter"/>
<path d="M200.4 1074.0L203.0 1079.4L197.8 1079.4Z" fill="#000" stroke="#000" stroke-width="1.4" stroke-linejoin="miter"/>
<path d="M215.8 1058.6L218.4 1064.0L213.2 1064.0Z" fill="#000" stroke="#000" stroke-width="1.4" stroke-linejoin="miter"/>
<path d="M226.5 1051.9L229.1 1057.3L223.9 1057.3Z" fill="#000" stroke="#000" stroke-width="1.4" stroke-linejoin="miter"/>
<path d="M237.3 1057.3L239.9 1062.7L234.7 1062.7Z" fill="#000" stroke="#000" stroke-width="1.4" stroke-linejoin="miter"/>
<path d="M252.4 1047.9L255.0 1053.3L249.8 1053.3Z" fill="#000" stroke="#000" stroke-width="1.4" stroke-linejoin="miter"/>
<path d="M263.2 1042.2L265.8 1047.6L260.6 1047.6Z" fill="#000" stroke="#000" stroke-width="1.4" stroke-linejoin="miter"/>
<path d="M273.5 1023.7L276.1 1029.1L270.9 1029.1Z" fill="#000" stroke="#000" stroke-width="1.4" stroke-linejoin="miter"/>
<path d="M288.9 1028.1L291.5 1033.5L286.3 1033.5Z" fill="#000" stroke="#000" stroke-width="1.4" stroke-linejoin="miter"/>
<path d="M300.3 1020.2L302.9 1025.6L297.7 1025.6Z" fill="#000" stroke="#000" stroke-width="1.4" stroke-linejoin="miter"/>
<path d="M310.5 1012.6L313.1 1018.0L307.9 1018.0Z" fill="#000" stroke="#000" stroke-width="1.4" stroke-linejoin="miter"/>
<path d="M325.7 1007.9L328.3 1013.3L323.1 1013.3Z" fill="#000" stroke="#000" stroke-width="1.4" stroke-linejoin="miter"/>
<path d="M335.8 1025.9L338.4 1031.3L333.2 1031.3Z" fill="#000" stroke="#000" stroke-width="1.4" stroke-linejoin="miter"/>
<path d="M346.9 1016.7L349.5 1022.1L344.3 1022.1Z" fill="#000" stroke="#000" stroke-width="1.4" stroke-linejoin="miter"/>
<path d="M362.6 1018.6L365.2 1024.0L360.0 1024.0Z" fill="#000" stroke="#000" stroke-width="1.4" stroke-linejoin="miter"/>
<path d="M383.7 1024.6L386.3 1030.0L381.1 1030.0Z" fill="#000" stroke="#000" stroke-width="1.4" stroke-linejoin="miter"/>
<path d="M399.3 1036.6L401.9 1042.0L396.7 1042.0Z" fill="#000" stroke="#000" stroke-width="1.4" stroke-linejoin="miter"/>
<path d="M415.1 1042.9L417.7 1048.3L412.5 1048.3Z" fill="#000" stroke="#000" stroke-width="1.4" stroke-linejoin="miter"/>
<path d="M435.8 1049.8L438.4 1055.2L433.2 1055.2Z" fill="#000" stroke="#000" stroke-width="1.4" stroke-linejoin="miter"/>
<path d="M457.3 1056.7L459.9 1062.1L454.7 1062.1Z" fill="#000" stroke="#000" stroke-width="1.4" stroke-linejoin="miter"/>
<path d="M472.8 1048.6L475.4 1054.0L470.2 1054.0Z" fill="#000" stroke="#000" stroke-width="1.4" stroke-linejoin="miter"/>
<path d="M488.5 1052.1L491.1 1057.5L485.9 1057.5Z" fill="#000" stroke="#000" stroke-width="1.4" stroke-linejoin="miter"/>
<text x="292.5" y="1223.5" font-size="18.4" text-anchor="middle" font-weight="bold">Days after cessation of treatment</text>
<text transform="translate(18 1004.3) rotate(-90)" font-size="19.0" font-weight="bold" text-anchor="middle">% of baseline</text>
<line x1="346.2" y1="906.5" x2="361.5" y2="906.5" stroke="#000" stroke-width="1.5"/>
<path d="M353.7 904.4L355.6 908.3L351.8 908.3Z" fill="#000" stroke="#000" stroke-width="1.4" stroke-linejoin="miter"/>
<text x="365.0" y="912.2" font-size="16.85" text-anchor="start">Unmanipulated</text>
<line x1="346.2" y1="925.7" x2="361.5" y2="925.7" stroke="#000" stroke-width="1.5" stroke-dasharray="3,2"/>
<path d="M353.7 923.3L356.0 927.7L351.4 927.7Z" fill="#fff" stroke="#000" stroke-width="1.4" stroke-linejoin="miter"/>
<text x="365.0" y="931.2" font-size="16.85" text-anchor="start">Operated</text>
<line x1="346.2" y1="944.2" x2="361.5" y2="944.2" stroke="#000" stroke-width="1.5"/>
<path d="M353.7 941.8L356.0 946.2L351.4 946.2Z" fill="#fff" stroke="#000" stroke-width="1.4" stroke-linejoin="miter"/>
<text x="365.0" y="949.5" font-size="16.85" text-anchor="start">Splenectomized</text>
</svg></body></html>
